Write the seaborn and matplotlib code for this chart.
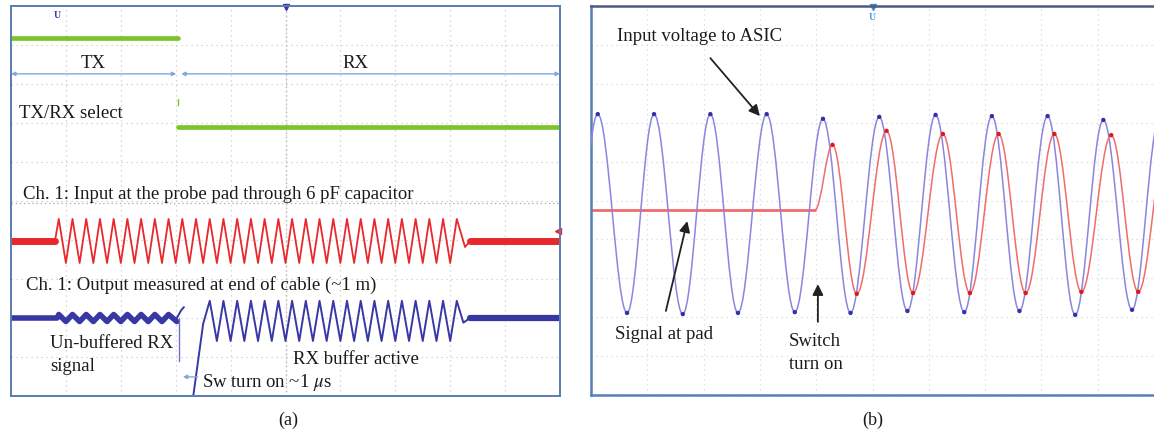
"""Dos capturas de osciloscopio: (a) conmutación TX/RX, (b) encendido del switch."""

import matplotlib
matplotlib.use("Agg")

import matplotlib.pyplot as plt
import numpy as np
import seaborn as sns
from matplotlib.patches import PathPatch
from matplotlib.path import Path

# ---------------- (a) tiempos y niveles en divisiones de pantalla ----------------
SEL_SWITCH_T = 3.04
SEL_HIGH, SEL_LOW = 4.18, 1.90

IN_PEAK_T = [0.87, 1.12, 1.37, 1.62, 1.87, 2.12, 2.37, 2.62, 2.87, 3.12,
             3.37, 3.62, 3.87, 4.12, 4.37, 4.62, 4.87, 5.12, 5.37, 5.62,
             5.87, 6.12, 6.37, 6.62, 6.87, 7.12, 7.37, 7.62, 7.87, 8.12]
IN_TROUGH_T = [1.00, 1.25, 1.50, 1.75, 2.00, 2.25, 2.50, 2.75, 3.00, 3.25,
               3.50, 3.75, 4.00, 4.25, 4.50, 4.75, 5.00, 5.25, 5.50, 5.75,
               6.00, 6.25, 6.50, 6.75, 7.00, 7.25, 7.50, 7.75, 8.00]
IN_HI, IN_LO, IN_IDLE = -0.46, -1.59, -1.03
IN_ON_T, IN_FALL, IN_OFF_T = 0.80, (8.27, -1.18), 8.36

OUT_IDLE = -3.0
OUT_RIPPLE_PEAK_T = IN_PEAK_T[:9]
OUT_RIPPLE_TROUGH_T = IN_TROUGH_T[:8] + [3.02]
OUT_RIPPLE_HI, OUT_RIPPLE_LO = -2.91, -3.09
OUT_GLITCH_T = [3.02, 3.10, 3.15]
OUT_GLITCH_V = [-3.0, -2.80, -2.72]
OUT_SPIKE_T = [3.06, 3.06]
OUT_SPIKE_V = [-3.0, -4.10]
OUT_RISE_T = [3.32, 3.50]
OUT_RISE_V = [-5.0, -3.15]
OUT_BUF_PEAK_T = IN_PEAK_T[11:]
OUT_BUF_TROUGH_T = IN_TROUGH_T[11:]
OUT_BUF_HI, OUT_BUF_LO = -2.56, -3.59
OUT_SETTLE_T = [8.24, 8.36]
OUT_SETTLE_V = [-3.12, -3.0]

# ---------------- (b) ----------------
ASIC_EXT_T = [-0.37, 0.12, 0.64, 1.12, 1.63, 2.12, 2.61, 3.12, 3.62, 4.12, 4.61,
              5.12, 5.62, 6.12, 6.63, 7.12, 7.61, 8.11, 8.60, 9.10, 9.61, 10.10]
ASIC_EXT_V = [-2.87, 2.22, -2.89, 2.22, -2.92, 2.22, -2.89, 2.22, -2.87, 2.10, -2.89,
              2.15, -2.84, 2.20, -2.87, 2.17, -2.84, 2.17, -2.94, 2.07, -2.81, 2.12]
PAD_IDLE_V = -0.24
PAD_ON_T = 3.98
PAD_EXT_T = [4.29, 4.72, 5.25, 5.72, 6.25, 6.73, 7.24, 7.72, 8.23, 8.71, 9.24, 9.72, 10.24]
PAD_EXT_V = [1.43, -2.40, 1.79, -2.38, 1.71, -2.38, 1.71, -2.38, 1.71, -2.35, 1.68, -2.35, 1.70]

GREEN, RED, NAVY = "#7dc42a", "#e8282c", "#3838a4"
DIM = "#7fa9dc"
B_BLUE, B_RED = "#8985e0", "#f06c6c"


def zigzag(peaks, hi, troughs, lo):
    t = np.concatenate([peaks, troughs])
    v = np.concatenate([np.full(len(peaks), hi), np.full(len(troughs), lo)])
    o = np.argsort(t, kind="stable")
    return t[o], v[o]


def trace(ax, t, v, color, lw):
    sns.lineplot(x=np.asarray(t, float), y=np.asarray(v, float), ax=ax, color=color,
                 linewidth=lw, sort=False, estimator=None, legend=False)


def smooth(ax, t, v, color, lw, start=None):
    """Curva tipo seno entre extremos (tangente horizontal en cada pico)."""
    if start is not None:
        verts, pts = [start], list(zip(t, v))
    else:
        verts, pts = [(t[0], v[0])], list(zip(t[1:], v[1:]))
    codes = [Path.MOVETO]
    x0, y0 = verts[0]
    for x1, y1 in pts:
        dx = x1 - x0
        verts += [(x0 + 0.363 * dx, y0), (x1 - 0.363 * dx, y1), (x1, y1)]
        codes += [Path.CURVE4] * 3
        x0, y0 = x1, y1
    ax.add_patch(PathPatch(Path(verts, codes), fill=False, edgecolor=color, lw=lw,
                           transform=ax.transData, zorder=3))


def scope_axes(fig, rect, xmax):
    ax = fig.add_axes(rect)
    ax.set_xlim(0, xmax)
    ax.set_ylim(-5, 5)
    ax.set_xticks(np.arange(0, 11))
    ax.set_yticks(np.arange(-5, 6))
    ax.tick_params(length=0, labelbottom=False, labelleft=False)
    ax.grid(True, color="#cccccc", linestyle=(0, (1, 3)), lw=0.9)
    ax.set_axisbelow(True)
    ax.set_facecolor("white")
    return ax


sns.set_theme(style="white")
plt.rcParams["font.family"] = ["Liberation Serif", "DejaVu Serif"]
plt.rcParams["mathtext.fontset"] = "stix"

fig = plt.figure(figsize=(11.54, 4.35), dpi=100)
TXT = dict(color="#1a1a1a", fontsize=13.5, va="center")

# ---------------- panel (a) ----------------
ax = scope_axes(fig, [11 / 1154, 38 / 435, 549 / 1154, 390 / 435], 10)
for s in ax.spines.values():
    s.set_color("#5b7cb0")
    s.set_linewidth(1.4)
ax.axvline(5, color="#b5b5b5", ls=(0, (1, 2)), lw=1.0, zorder=0)
ax.axhline(-0.05, color="#b5b5b5", ls=(0, (1, 2)), lw=1.0, zorder=0)

trace(ax, [0, SEL_SWITCH_T], [SEL_HIGH, SEL_HIGH], GREEN, 3.4)
trace(ax, [SEL_SWITCH_T, 10], [SEL_LOW, SEL_LOW], GREEN, 3.4)
trace(ax, [SEL_SWITCH_T, SEL_SWITCH_T], [2.45, 2.62], GREEN, 1.0)

ax.annotate("", xy=(0, 3.26), xytext=(SEL_SWITCH_T - 0.03, 3.26),
            arrowprops=dict(arrowstyle="<|-|>", color=DIM, lw=1.0, mutation_scale=6,
                            shrinkA=0, shrinkB=0))
ax.annotate("", xy=(SEL_SWITCH_T + 0.06, 3.26), xytext=(10, 3.26),
            arrowprops=dict(arrowstyle="<|-|>", color=DIM, lw=1.0, mutation_scale=6,
                            shrinkA=0, shrinkB=0))

# canal de entrada (rojo)
t, v = zigzag(IN_PEAK_T, IN_HI, IN_TROUGH_T, IN_LO)
trace(ax, [0, IN_ON_T], [IN_IDLE, IN_IDLE], RED, 5.0)
trace(ax, np.r_[IN_ON_T, t, IN_FALL[0], IN_OFF_T], np.r_[IN_IDLE, v, IN_FALL[1], IN_IDLE], RED, 1.3)
trace(ax, [IN_OFF_T, 10], [IN_IDLE, IN_IDLE], RED, 5.0)

# canal de salida (azul)
t, v = zigzag(OUT_RIPPLE_PEAK_T, OUT_RIPPLE_HI, OUT_RIPPLE_TROUGH_T, OUT_RIPPLE_LO)
trace(ax, np.r_[0, 0.84, t], np.r_[OUT_IDLE, OUT_IDLE, v], NAVY, 4.0)
trace(ax, OUT_GLITCH_T, OUT_GLITCH_V, NAVY, 1.4)
trace(ax, OUT_SPIKE_T, OUT_SPIKE_V, "#6f6fc8", 1.0)
t, v = zigzag(OUT_BUF_PEAK_T, OUT_BUF_HI, OUT_BUF_TROUGH_T, OUT_BUF_LO)
trace(ax, np.r_[OUT_RISE_T, t, OUT_SETTLE_T], np.r_[OUT_RISE_V, v, OUT_SETTLE_V], NAVY, 1.4)
trace(ax, [OUT_SETTLE_T[-1], 10], [OUT_IDLE, OUT_IDLE], NAVY, 4.5)

ax.annotate("", xy=(3.13, -4.51), xytext=(3.40, -4.51),
            arrowprops=dict(arrowstyle="-|>", color=DIM, lw=1.0, mutation_scale=6,
                            shrinkA=0, shrinkB=0))

ax.text(0.84, 4.77, "U", color=NAVY, fontsize=7, fontweight="bold", ha="center", va="center")
ax.plot(5, 4.97, marker="v", color=NAVY, ms=4, clip_on=False)
ax.plot(9.96, -0.77, marker="<", color=RED, ms=4, clip_on=False)

ax.text(1.49, 3.56, "TX", ha="center", **TXT)
ax.text(6.27, 3.56, "RX", ha="center", **TXT)
ax.text(0.15, 2.26, "TX/RX select", **TXT)
ax.text(0.22, 0.18, "Ch. 1: Input at the probe pad through 6 pF capacitor", **TXT)
ax.text(0.27, -2.13, "Ch. 1: Output measured at end of cable (~1 m)", **TXT)
ax.text(0.71, -3.64, "Un-buffered RX", **TXT)
ax.text(0.71, -4.21, "signal", **TXT)
ax.text(5.14, -4.03, "RX buffer active", **TXT)
ax.text(3.48, -4.64, r"Sw turn on ~1 $\mu$s", **TXT)

# ---------------- panel (b) ----------------
bx = scope_axes(fig, [591 / 1154, 39 / 435, 563 / 1154, 389 / 435], 9.95)
bx.grid(True, color="#d8d8d8", linestyle=(0, (1, 3)), lw=0.9)
bx.spines["right"].set_visible(False)
for k in ("left", "bottom"):
    bx.spines[k].set_color("#5680b6")
    bx.spines[k].set_linewidth(1.8)
bx.spines["top"].set_color("#4d5a82")
bx.spines["top"].set_linewidth(1.8)

smooth(bx, ASIC_EXT_T, ASIC_EXT_V, B_BLUE, 1.1)
trace(bx, [0, PAD_ON_T], [PAD_IDLE_V, PAD_IDLE_V], B_RED, 2.0)
smooth(bx, PAD_EXT_T, PAD_EXT_V, B_RED, 1.1, start=(PAD_ON_T, PAD_IDLE_V))
sns.scatterplot(x=ASIC_EXT_T, y=ASIC_EXT_V, ax=bx, color="#3232a6", s=10,
                edgecolor="none", legend=False, zorder=4)
sns.scatterplot(x=PAD_EXT_T, y=PAD_EXT_V, ax=bx, color="#e01818", s=10,
                edgecolor="none", legend=False, zorder=4)

bx.plot(5, 4.97, marker="v", color="#3a8ad0", ms=4, clip_on=False)
bx.text(5, 4.72, "U", color="#4ea0e0", fontsize=7, fontweight="bold", ha="center", va="center")

ARW = dict(arrowstyle="-|>", color="#222222", lw=1.3, mutation_scale=16,
           shrinkA=0, shrinkB=0)
bx.text(0.46, 4.25, "Input voltage to ASIC", **TXT)
bx.annotate("", xy=(3.00, 2.17), xytext=(2.12, 3.66), arrowprops=ARW)
bx.text(0.42, -3.41, "Signal at pad", **TXT)
bx.annotate("", xy=(1.71, -0.53), xytext=(1.33, -2.84), arrowprops=ARW)
bx.text(3.52, -3.61, "Switch", **TXT)
bx.text(3.52, -4.18, "turn on", **TXT)
bx.annotate("", xy=(4.03, -2.15), xytext=(4.03, -3.12), arrowprops=ARW)
for a in (ax, bx):
    a.set(xlabel="", ylabel="")

fig.text(288 / 1154, 1 - 420 / 435, "(a)", ha="center", va="center", fontsize=13, color="#1a1a1a")
fig.text(873 / 1154, 1 - 420 / 435, "(b)", ha="center", va="center", fontsize=13, color="#1a1a1a")

fig.savefig("out.png", dpi=100, facecolor="white")
